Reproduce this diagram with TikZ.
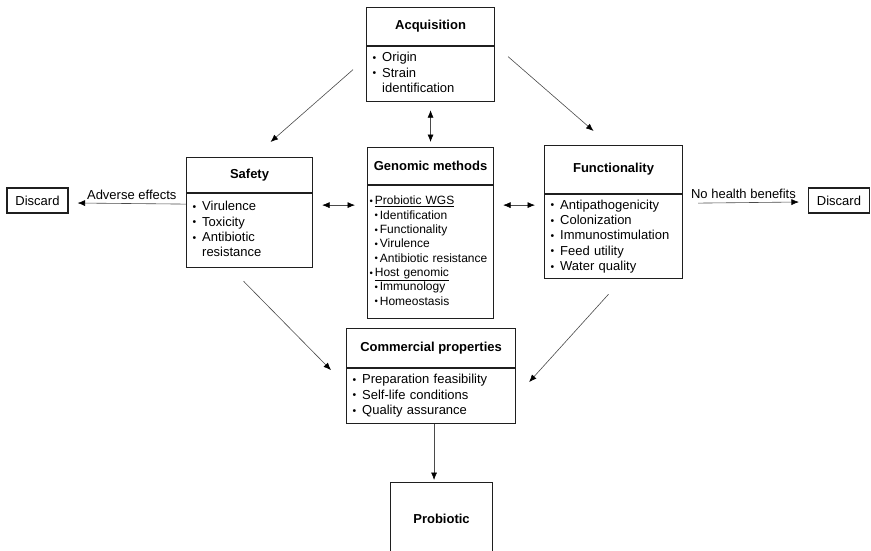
\documentclass[tikz,border=0pt]{standalone}
\usepackage{fontspec}
\setmainfont{Liberation Sans}
\usepackage{graphicx}
\usetikzlibrary{arrows.meta,positioning}
\definecolor{ink}{HTML}{1F1F1F}
\definecolor{wire}{HTML}{4A4A4A}
\newcommand{\bul}{\raisebox{0.3pt}{\scalebox{0.8}{\textbullet}}}
\newcommand{\gbul}{\bul\hspace{2pt}}

\begin{document}
\begin{tikzpicture}[x=1pt,y=-1pt,>={Latex[length=7.5pt,width=6pt,color=black]},
    head/.style={draw=ink,line width=1.1pt,anchor=north west,inner sep=0pt,
                 font=\fontsize{13}{15.3}\selectfont\bfseries},
    body/.style={draw=ink,line width=1.1pt,inner xsep=6pt,inner ysep=0pt,
                 align=left,font=\fontsize{13}{15.3}\selectfont},
    disc/.style={draw=ink,line width=1.1pt,minimum width=61pt,minimum height=25pt,
                 inner sep=0pt,font=\fontsize{13}{15.3}\selectfont},
    wire/.style={draw=wire,line width=0.6pt},
    lbl/.style={font=\fontsize{13}{15.3}\selectfont}]
  \useasboundingbox (0,0) rectangle (871,550);
  \clip (0,0) rectangle (871,550);

  % acquisition
  \node[head,minimum width=128pt,minimum height=38pt] (acq) at (366,7) {Acquisition};
  \node[body,below=0pt of acq,minimum height=55pt,text width=116pt] (acqlist)
    {\begin{tabular}{@{}l@{\hspace{6pt}}l@{}}
      \bul & Origin\\ \bul & Strain\\ & identification\end{tabular}};

  % safety
  \node[head,minimum width=126pt,minimum height=35pt] (safe) at (186,157) {Safety};
  \node[body,below=0pt of safe,minimum height=74pt,text width=114pt] (safelist)
    {\begin{tabular}{@{}l@{\hspace{6pt}}l@{}}
      \bul & Virulence\\ \bul & Toxicity\\ \bul & Antibiotic\\ & resistance\end{tabular}};

  % genomic methods
  \node[head,minimum width=126pt,minimum height=37pt] (gen) at (367,147) {Genomic methods};
  \node[body,below=0pt of gen,minimum height=133pt,text width=122pt,inner xsep=2pt,
        font=\fontsize{12}{14.3}\selectfont] (genlist)
    {\begin{tabular}{@{}l@{}}
      \gbul\underline{Probiotic WGS}\\
      \hspace{5pt}\gbul Identification\\
      \hspace{5pt}\gbul Functionality\\
      \hspace{5pt}\gbul Virulence\\
      \hspace{5pt}\gbul Antibiotic resistance\\
      \gbul\underline{Host genomic}\\
      \hspace{5pt}\gbul Immunology\\
      \hspace{5pt}\gbul Homeostasis\end{tabular}};

  % functionality
  \node[head,minimum width=138pt,minimum height=48pt] (func) at (544,145) {Functionality};
  \node[body,below=0pt of func,minimum height=84pt,text width=126pt] (funclist)
    {\begin{tabular}{@{}l@{\hspace{6pt}}l@{}}
      \bul & Antipathogenicity\\ \bul & Colonization\\ \bul & Immunostimulation\\
      \bul & Feed utility\\ \bul & Water quality\end{tabular}};

  % commercial properties
  \node[head,minimum width=169pt,minimum height=39pt] (com) at (346,328) {Commercial properties};
  \node[body,below=0pt of com,minimum height=55pt,text width=157pt] (comlist)
    {\begin{tabular}{@{}l@{\hspace{6pt}}l@{}}
      \bul & Preparation feasibility\\ \bul & Self-life conditions\\
      \bul & Quality assurance\end{tabular}};

  \node[head,minimum width=102pt,minimum height=72pt] (pro) at (390,482) {Probiotic};

  \node[disc] (discL) at (37.5,200.5) {Discard};
  \node[disc] (discR) at (839,200.5) {Discard};

  % connectors
  \draw[wire,->] ([shift={(-13pt,4.5pt)}]acqlist.west) -- ([shift={(21pt,15pt)}]safe.north);
  \draw[wire,->] ([shift={(13pt,17.5pt)}]acqlist.east) -- ([shift={(-20pt,14pt)}]func.north);
  \draw[wire,<->] ([yshift=-8pt]acqlist.south) -- ([yshift=5pt]gen.north);
  \draw[wire,<->] ([shift={(9pt,-12pt)}]safelist.north east) -- ([shift={(-12pt,-20pt)}]genlist.north west);
  \draw[wire,<->] ([shift={(9pt,-20pt)}]genlist.north east) -- ([shift={(-9pt,-11pt)}]funclist.north west);
  \draw[wire,->] ([yshift=-11pt]safelist.north west) -- ([shift={(9pt,-2.5pt)}]discL.east)
    node[lbl,midway,above] {Adverse effects};
  \draw[wire,->] ([shift={(15pt,-9pt)}]funclist.north east) -- ([shift={(-9pt,-1.5pt)}]discR.west)
    node[lbl,pos=0.45,above] {No health benefits};
  \draw[wire,->] ([shift={(-6pt,-13pt)}]safelist.south) -- ([shift={(-15pt,-2pt)}]comlist.north west);
  \draw[wire,->] ([shift={(-5pt,-15pt)}]funclist.south) -- ([shift={(13pt,-14pt)}]comlist.north east);
  \draw[wire,->] ([xshift=3pt]comlist.south) -- ([shift={(-7.5pt,2pt)}]pro.north);
\end{tikzpicture}
\end{document}
